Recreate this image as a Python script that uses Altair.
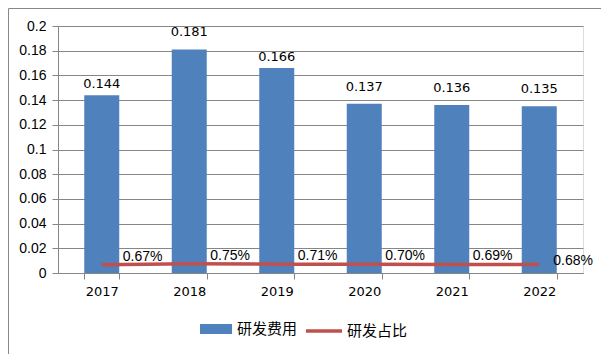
import altair as alt
import pandas as pd

years = ["2017", "2018", "2019", "2020", "2021", "2022"]
rd_cost = [0.144, 0.181, 0.166, 0.137, 0.136, 0.135]
rd_ratio = [0.0067, 0.0075, 0.0071, 0.0070, 0.0069, 0.0068]
ratio_labels = ["0.67%", "0.75%", "0.71%", "0.70%", "0.69%", "0.68%"]
series_names = ["研发费用", "研发占比"]
y_ticks = [0, 0.02, 0.04, 0.06, 0.08, 0.1, 0.12, 0.14, 0.16, 0.18, 0.2]

df = pd.DataFrame({
    "year": years,
    "cost": rd_cost,
    "ratio": rd_ratio,
    "ratio_label": ratio_labels,
    "s1": [series_names[0]] * len(years),
    "s2": [series_names[1]] * len(years),
    "idx": list(range(len(years))),
})

BLUE = "#4F81BD"
RED = "#C0504D"
GRAY = "#868686"

x_axis = alt.Axis(
    labelAngle=0, grid=False, tickBand="extent", tickSize=6,
    domainColor=GRAY, tickColor=GRAY, labelFont="DejaVu Sans",
    labelFontSize=13, labelColor="#000000", labelPadding=6,
)
y_axis = alt.Axis(
    values=y_ticks, labelOverlap=False, tickCount=11,
    format=".2~f", gridColor=GRAY, domainColor=GRAY, tickColor=GRAY,
    tickSize=6, labelFont="Liberation Sans", labelFontSize=14,
    labelColor="#000000", labelPadding=6,
)
x_scale = alt.Scale(paddingInner=0.6, paddingOuter=0.3)
y_scale = alt.Scale(domain=[0, 0.2], nice=False)


def X():
    return alt.X("year:N", sort=years, title=None, scale=x_scale, axis=x_axis)


def Y(field):
    return alt.Y(field, scale=y_scale, title=None, axis=y_axis)


base = alt.Chart(df)

bars = base.mark_bar(color=BLUE).encode(
    x=X(),
    y=Y("cost:Q"),
    color=alt.Color(
        "s1:N",
        scale=alt.Scale(domain=[series_names[0]], range=[BLUE]),
        legend=alt.Legend(
            title=None, orient="none", legendX=142, legendY=287, padding=0,
            symbolType="M-1,-0.3125H1V0.3125H-1Z", symbolSize=1024,
            symbolStrokeWidth=0, symbolOpacity=1,
            labelFont="Noto Sans CJK SC", labelFontSize=15, labelColor="#000000",
            labelOffset=5,
        ),
    ),
)

bar_labels_near = base.transform_filter("datum.idx == 0 || datum.idx == 2").mark_text(
    baseline="alphabetic", dy=-7, font="DejaVu Sans", fontSize=13, color="#000000"
).encode(
    x=X(),
    y=Y("cost:Q"),
    text=alt.Text("cost:Q", format=".3f"),
)

bar_labels_far = base.transform_filter("datum.idx != 0 && datum.idx != 2").mark_text(
    baseline="alphabetic", dy=-13, font="DejaVu Sans", fontSize=13, color="#000000"
).encode(
    x=X(),
    y=Y("cost:Q"),
    text=alt.Text("cost:Q", format=".3f"),
)

line = base.mark_line(strokeWidth=3.5).encode(
    x=X(),
    y=Y("ratio:Q"),
    stroke=alt.Stroke(
        "s2:N",
        scale=alt.Scale(domain=[series_names[1]], range=[RED]),
        legend=alt.Legend(
            title=None, orient="none", legendX=246, legendY=285, padding=0,
            symbolType="stroke", symbolSize=1296, symbolStrokeWidth=3.5,
            labelFont="Noto Sans CJK SC", labelFontSize=15, labelColor="#000000",
            labelOffset=3,
        ),
    ),
)

ratio_text_a = base.transform_filter("datum.idx < 5").mark_text(
    align="left", baseline="middle", dx=21, dy=-8,
    font="Liberation Sans", fontSize=14, color="#000000",
).encode(
    x=X(),
    y=Y("ratio:Q"),
    text="ratio_label:N",
)

ratio_text_b = base.transform_filter("datum.idx == 5").mark_text(
    align="left", baseline="middle", dx=14, dy=-4,
    font="Liberation Sans", fontSize=14, color="#000000",
).encode(
    x=X(),
    y=Y("ratio:Q"),
    text="ratio_label:N",
)

frame = alt.Chart(pd.DataFrame({"a": [0]})).mark_rect(
    fill=None, stroke="#888888", strokeWidth=1
).encode(
    x=alt.value(-49.5), x2=alt.value(543.5),
    y=alt.value(-17.5), y2=alt.value(328.5),
)

chart = alt.layer(
    bars, bar_labels_near, bar_labels_far, line, ratio_text_a, ratio_text_b, frame
).resolve_scale(
    color="independent", stroke="independent"
).properties(
    width=525,
    height=247,
    autosize=alt.AutoSizeParams(type="none"),
    padding={"left": 50, "top": 18, "right": 18, "bottom": 81},
).configure_view(stroke=None).configure(background="white")

chart.save("out.html", embed_options={"renderer": "svg", "actions": False})
